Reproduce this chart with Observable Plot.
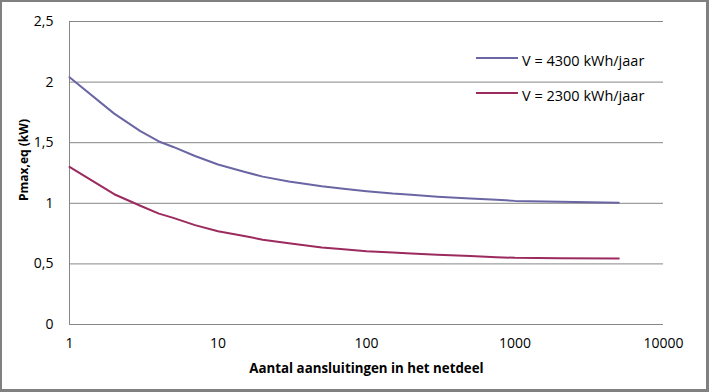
<!DOCTYPE html>
<html>
<head>
<meta charset="utf-8">
<script src="https://cdn.jsdelivr.net/npm/d3@7"></script>
<script src="https://cdn.jsdelivr.net/npm/@observablehq/plot@0.6"></script>
<style>
  html, body { margin: 0; padding: 0; background: #fff; }
  #wrap { position: relative; width: 709px; height: 392px; overflow: hidden; font-family: "Open Sans", sans-serif; }
  #frame { position: absolute; left: 0; top: 0; width: 709px; height: 392px; box-sizing: border-box;
           border-style: solid; border-color: #808080; border-width: 2px 3px 3px 2px; pointer-events: none; }
  #legend { position: absolute; left: 476px; top: 43px; font-size: 14.5px; color: #000; }
  .item { display: flex; align-items: center; height: 35px; }
  .swatch { width: 42px; height: 0; border-top: 2.5px solid; margin-right: 4px; margin-top: -6px; }
</style>
</head>
<body>
<div id="wrap"><div id="chart"></div><div id="legend"></div><div id="frame"></div></div>
<script>
const seriesNames = ["V = 4300 kWh/jaar", "V = 2300 kWh/jaar"];
const seriesColors = ["#6a66a4", "#9b2a5f"];
const connections = [1, 2, 3, 4, 5, 7, 10, 15, 20, 30, 50, 70, 100, 150, 200, 300, 500, 750, 1000, 2000, 5000];
const p4300 = [2.04, 1.74, 1.595, 1.51, 1.465, 1.39, 1.32, 1.26, 1.22, 1.18, 1.14, 1.12, 1.10, 1.08, 1.07, 1.055, 1.04, 1.03, 1.02, 1.012, 1.005];
const p2300 = [1.30, 1.075, 0.98, 0.915, 0.88, 0.82, 0.77, 0.73, 0.70, 0.67, 0.635, 0.62, 0.605, 0.595, 0.585, 0.575, 0.565, 0.555, 0.55, 0.547, 0.545];
const xTicks = [1, 10, 100, 1000, 10000];
const yTicks = [0, 0.5, 1, 1.5, 2, 2.5];
const xTitle = "Aantal aansluitingen in het netdeel";
const yTitle = "Pmax,eq (kW)";

const rows = [];
connections.forEach((n, i) => {
  rows.push({n, p: p4300[i], s: seriesNames[0]});
  rows.push({n, p: p2300[i], s: seriesNames[1]});
});

const grid = "#878787";
const chart = Plot.plot({
  width: 709, height: 392,
  marginLeft: 69, marginRight: 46, marginTop: 21, marginBottom: 68,
  style: {fontFamily: "Open Sans, sans-serif", fontSize: "14px", color: "#000", background: "transparent"},
  x: {type: "log", domain: [1, 10000]},
  y: {domain: [0, 2.5]},
  color: {domain: seriesNames, range: seriesColors},
  marks: [
    Plot.ruleY(yTicks, {stroke: grid, strokeWidth: 1}),
    Plot.ruleX([1], {stroke: grid, strokeWidth: 1}),
    Plot.axisX({ticks: xTicks, tickSize: 0, tickPadding: 14, tickFormat: d => String(d), label: null}),
    Plot.axisY({ticks: yTicks, tickSize: 0, tickPadding: 16, tickFormat: d => String(d).replace(".", ","), label: null}),
    Plot.line(rows, {x: "n", y: "p", z: "s", stroke: "s", strokeWidth: 2}),
    Plot.text([xTitle], {frameAnchor: "bottom", dy: 48, fontWeight: "bold", fontSize: 13.3}),
    Plot.text([yTitle], {frameAnchor: "left", textAnchor: "middle", dx: -45, dy: -13, rotate: -90, fontWeight: "bold", fontSize: 12})
  ]
});
document.getElementById("chart").appendChild(chart);

const legend = document.getElementById("legend");
seriesNames.forEach((name, i) => {
  const it = document.createElement("div");
  it.className = "item";
  const sw = document.createElement("div");
  sw.className = "swatch";
  sw.style.borderColor = seriesColors[i];
  const t = document.createElement("span");
  t.textContent = name;
  it.appendChild(sw); it.appendChild(t);
  legend.appendChild(it);
});
</script>
</body>
</html>
